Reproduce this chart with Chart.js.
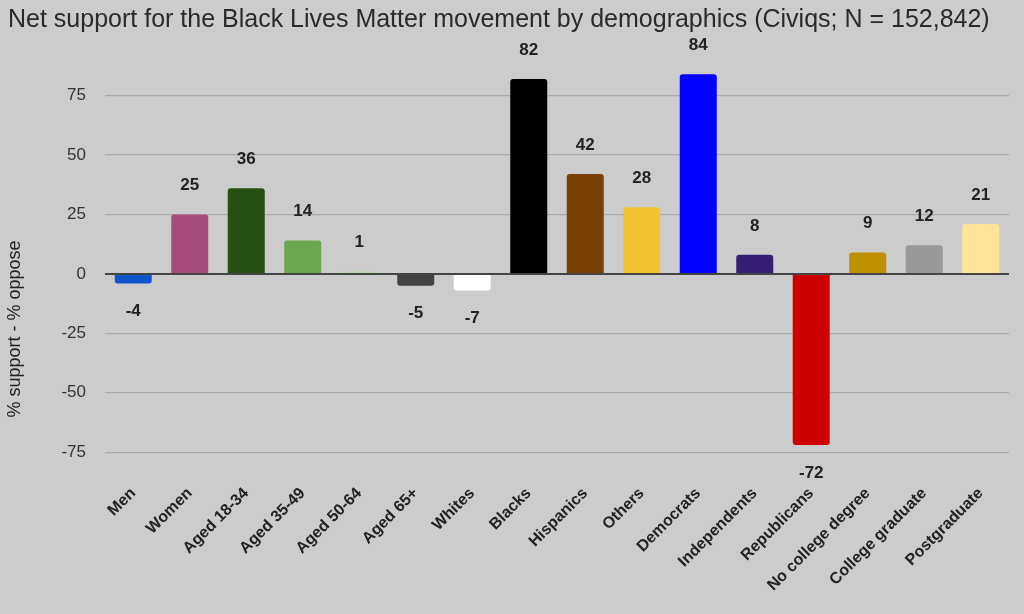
<!DOCTYPE html>
<html>
<head>
<meta charset="utf-8">
<script src="https://cdn.jsdelivr.net/npm/chart.js@4"></script>
<style>
  html, body { margin: 0; padding: 0; background: #cccccc; }
  #wrap { width: 1024px; height: 614px; }
</style>
</head>
<body>
<div id="wrap"><canvas id="chart"></canvas></div>
<script>
const categories = ['Men', 'Women', 'Aged 18-34', 'Aged 35-49', 'Aged 50-64', 'Aged 65+', 'Whites', 'Blacks',
  'Hispanics', 'Others', 'Democrats', 'Independents', 'Republicans', 'No college degree', 'College graduate', 'Postgraduate'];
const netSupport = [-4, 25, 36, 14, 1, -5, -7, 82, 42, 28, 84, 8, -72, 9, 12, 21];
const barColors = ['#1155cc', '#a64d79', '#274e13', '#6aa84f', '#b6d7a8', '#434343', '#ffffff', '#000000',
  '#783f04', '#f1c232', '#0000ff', '#351c75', '#cc0000', '#bf9000', '#999999', '#ffe599'];
const yTicks = [-75, -50, -25, 0, 25, 50, 75];
const yTitle = '% support - % oppose';

const font = 'Liberation Sans, Arial, sans-serif';

// value labels above / below each bar, plus the vertical axis title
const valueLabels = {
  id: 'valueLabels',
  afterDatasetsDraw(chart) {
    const ctx = chart.ctx;
    const meta = chart.getDatasetMeta(0);
    ctx.save();
    ctx.font = 'bold 17px ' + font;
    ctx.fillStyle = '#222';
    ctx.textAlign = 'center';
    ctx.textBaseline = 'middle';
    meta.data.forEach((bar, i) => {
      const v = netSupport[i];
      const y = v >= 0 ? bar.y - 29 : bar.y + 28;
      ctx.fillText(String(v), bar.x, y);
    });
    ctx.restore();

    ctx.save();
    ctx.translate(15, 329);
    ctx.rotate(-Math.PI / 2);
    ctx.font = '18px ' + font;
    ctx.fillStyle = '#222';
    ctx.textAlign = 'center';
    ctx.textBaseline = 'middle';
    ctx.fillText(yTitle, 0, 0);
    ctx.restore();
  }
};

new Chart(document.getElementById('chart'), {
  type: 'bar',
  data: {
    labels: categories,
    datasets: [{
      data: netSupport,
      backgroundColor: barColors,
      borderRadius: 3,
      borderSkipped: 'start',
      categoryPercentage: 1,
      barPercentage: 0.655
    }]
  },
  options: {
    responsive: true,
    maintainAspectRatio: false,
    animation: false,
    layout: { padding: { left: 8, right: 15, top: 0, bottom: 0 } },
    plugins: {
      legend: { display: false },
      tooltip: { enabled: false },
      title: {
        display: true,
        text: 'Net support for the Black Lives Matter movement by demographics (Civiqs; N = 152,842)',
        align: 'start',
        color: '#2a2a2a',
        font: { family: font, size: 25, weight: 'normal' },
        padding: { top: 5, bottom: 25 }
      }
    },
    scales: {
      x: {
        grid: { display: false },
        border: { display: false },
        ticks: {
          color: '#222',
          font: { family: font, size: 16, weight: 'bold' },
          minRotation: 45,
          maxRotation: 45,
          padding: 12,
          autoSkip: false
        },
        afterFit(scale) { scale.height = 150; }
      },
      y: {
        min: -80,
        max: 90,
        afterBuildTicks(scale) { scale.ticks = yTicks.map(v => ({ value: v })); },
        afterFit(scale) { scale.width = 97; },
        border: { display: false },
        grid: {
          color: ctx => ctx.tick && ctx.tick.value === 0 ? '#444' : '#a9a9a9',
          lineWidth: ctx => ctx.tick && ctx.tick.value === 0 ? 2 : 1.2,
          drawTicks: false
        },
        ticks: {
          color: '#333',
          font: { family: font, size: 17 },
          padding: 19
        }
      }
    }
  },
  plugins: [valueLabels]
});
</script>
</body>
</html>
